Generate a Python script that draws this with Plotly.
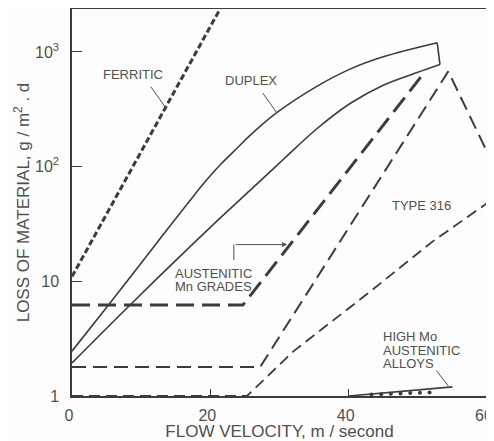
import plotly.graph_objects as go

# ---- data ----
ferritic_x = [0, 22]
ferritic_y = [11, 2750]

duplex_upper_x = [0, 5.5, 12, 17, 19, 21.5, 23.85, 25.7, 29.6, 35.4, 40.2, 45.0, 52.8]
duplex_upper_y = [2.46, 6.46, 20.65, 50.1, 70.8, 104.7, 144.5, 186.2, 295.1, 501, 707.9, 905.7, 1202]
duplex_lower_x = [0, 8.4, 21.4, 25.7, 30.5, 35.4, 40.2, 45.0, 49.9, 53.2]
duplex_lower_y = [1.94, 6.22, 35.5, 61.7, 114.8, 213.8, 354.8, 512.9, 660.7, 776]

mn_x = [0, 24.7, 50.8]
mn_y = [6.2, 6.2, 646]

peak_x = [0, 27.2, 54.4, 60]
peak_y = [1.79, 1.79, 676, 135]

t316_x = [0, 25.3, 32, 42.6, 52.2, 60]
t316_y = [1.0, 1.0, 2.45, 7.7, 22.4, 47.9]

himo_x = [40, 55]
himo_y = [1.0, 1.2]
himo_dot_x = [43.3, 44.7, 46.1, 47.5, 48.9, 50.3, 51.7]
himo_dot_y = [1.03, 1.035, 1.045, 1.05, 1.06, 1.065, 1.075]

x_ticks = [0, 20, 40, 60]
y_ticks = [1, 10, 100, 1000]
y_ticktext = ["1", "10", "10<sup>2</sup>", "10<sup>3</sup>"]

LC = "#3c3c3c"
TC = "#505050"
FONT = "Liberation Sans, Arial, sans-serif"

fig = go.Figure()

def add_line(x, y, width, dash, shape="linear"):
    fig.add_trace(go.Scatter(x=x, y=y, mode="lines",
                             line=dict(color=LC, width=width, dash=dash, shape=shape),
                             showlegend=False, hoverinfo="skip"))

add_line(ferritic_x, ferritic_y, 3, "6px,3px")
add_line(duplex_upper_x, duplex_upper_y, 1.6, "solid", "spline")
add_line(duplex_lower_x, duplex_lower_y, 1.6, "solid", "spline")
add_line([duplex_upper_x[-1], duplex_lower_x[-1]], [duplex_upper_y[-1], duplex_lower_y[-1]], 1.6, "solid")
add_line(mn_x, mn_y, 3, "18px,8px")
add_line(peak_x, peak_y, 2, "14px,7px")
add_line(t316_x, t316_y, 1.8, "11px,6px")
add_line(himo_x, himo_y, 1.6, "solid")
fig.add_trace(go.Scatter(x=himo_dot_x, y=himo_dot_y, mode="markers",
                         marker=dict(color=LC, size=4), showlegend=False, hoverinfo="skip",
                         cliponaxis=False))

afont = dict(family=FONT, size=13, color=TC)

def label(text, x, logy, xanchor="center"):
    fig.add_annotation(x=x, y=logy, text=text, showarrow=False, font=afont,
                       xanchor=xanchor, yanchor="middle")

def leader(x, logy, ax, ay, head=0):
    fig.add_annotation(x=x, y=logy, ax=ax, ay=ay, text="", showarrow=True,
                       arrowhead=head, arrowwidth=1, arrowcolor=TC, arrowsize=1)

label("FERRITIC", 8.8, 2.80)
leader(13.7, 2.50, -17, -24)
label("DUPLEX", 25.9, 2.75)
leader(29.6, 2.47, -15, -21)
label("AUSTENITIC", 14.6, 1.07, "left")
label("Mn GRADES", 14.6, 0.955, "left")
leader(31.1, 1.32, -53, 0, head=2)
leader(23.4, 1.32, 0, 17)
label("TYPE 316", 50.6, 1.66)
label("HIGH Mo", 44.7, 0.52, "left")
label("AUSTENITIC", 44.7, 0.40, "left")
label("ALLOYS", 44.7, 0.285, "left")
leader(54.4, 0.087, -13, -17)

# page body has an 8px default margin, so the figure is sized to fit the window
fig.update_layout(
    width=486, height=433,
    margin=dict(l=64, r=7, t=1, b=45, autoexpand=False),
    paper_bgcolor="#fdfdfd", plot_bgcolor="#fdfdfd",
    font=dict(family=FONT, color=TC),
)
fig.update_xaxes(range=[0, 60], tickvals=x_ticks, ticks="inside", ticklen=7,
                 tickcolor=LC, showline=True, linecolor=LC, linewidth=1.5, mirror=True,
                 showgrid=False, zeroline=False, tickfont=dict(size=16, color=TC),
                 automargin=False, ticklabelstandoff=4, ticklabelshift=-3,
                 ticklabeloverflow="allow",
                 title=dict(text="FLOW VELOCITY, m / second", font=dict(size=17, color=TC), standoff=3))
fig.update_yaxes(type="log", range=[0, 3.374], tickvals=y_ticks, ticktext=y_ticktext,
                 ticks="inside", ticklen=10, tickcolor=LC, showline=True, linecolor=LC,
                 linewidth=1.5, mirror=True, showgrid=False, zeroline=False,
                 automargin=False, ticklabeloverflow="allow",
                 tickfont=dict(size=16, color=TC), ticklabelstandoff=8,
                 title=dict(text="LOSS OF MATERIAL, g / m<sup>2</sup> . d",
                            font=dict(size=17, color=TC), standoff=1))

fig.write_html("out.html")
